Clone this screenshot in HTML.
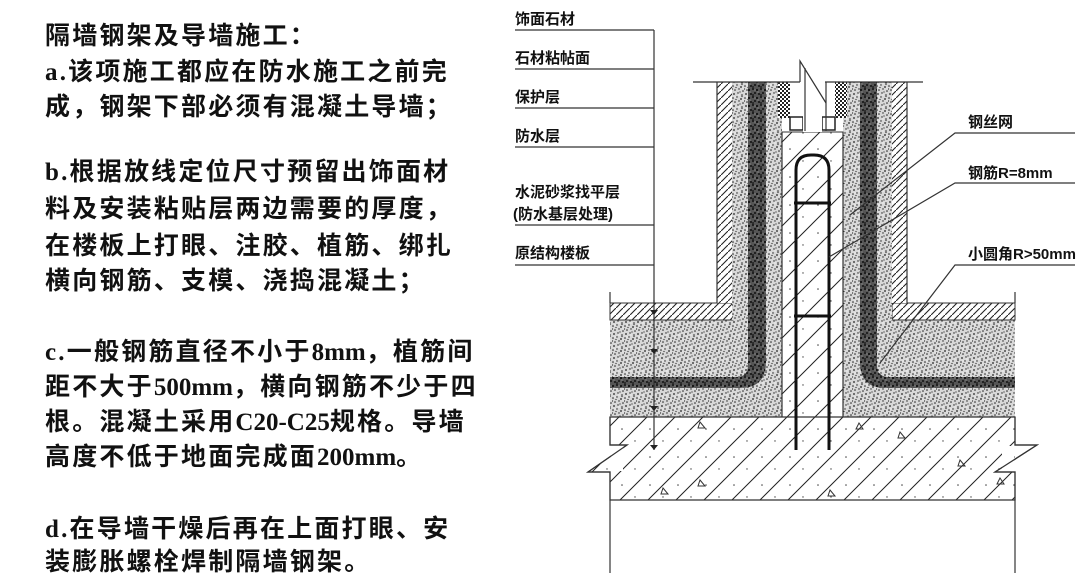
<!DOCTYPE html>
<html><head><meta charset="utf-8"><style>
html,body{margin:0;padding:0;background:#fff;}
body{width:1080px;height:584px;position:relative;overflow:hidden;font-family:"Liberation Sans","Noto Sans CJK SC",sans-serif;}
.t{position:absolute;left:45px;font-size:25px;font-weight:bold;color:#111;white-space:nowrap;line-height:30px;letter-spacing:2.2px;font-family:"Liberation Serif","Noto Sans CJK SC",sans-serif;}
.l{letter-spacing:0;}
svg{position:absolute;left:0;top:0;}
</style></head><body>
<div class="t" style="top:22px">隔墙钢架及导墙施工：</div>
<div class="t" style="top:58px">a.该项施工都应在防水施工之前完</div>
<div class="t" style="top:93px">成，钢架下部必须有混凝土导墙；</div>
<div class="t" style="top:158px">b.根据放线定位尺寸预留出饰面材</div>
<div class="t" style="top:195px">料及安装粘贴层两边需要的厚度，</div>
<div class="t" style="top:232px">在楼板上打眼、注胶、植筋、绑扎</div>
<div class="t" style="top:267px">横向钢筋、支模、浇捣混凝土；</div>
<div class="t" style="top:338px">c.一般钢筋直径不小于<span class="l">8mm</span>，植筋间</div>
<div class="t" style="top:373px">距不大于<span class="l">500mm</span>，横向钢筋不少于四</div>
<div class="t" style="top:408px">根。混凝土采用<span class="l">C20-C25</span>规格。导墙</div>
<div class="t" style="top:443px">高度不低于地面完成面<span class="l">200mm</span>。</div>
<div class="t" style="top:515px">d.在导墙干燥后再在上面打眼、安</div>
<div class="t" style="top:548px">装膨胀螺栓焊制隔墙钢架。</div>

<svg width="1080" height="584" viewBox="0 0 1080 584">
<defs>
<pattern id="h" width="7" height="7" patternUnits="userSpaceOnUse">
<rect width="7" height="7" fill="#fff"/><path d="M-1,8 L8,-1" stroke="#222" stroke-width="1.1"/></pattern>
<pattern id="hw" width="28" height="28" patternUnits="userSpaceOnUse">
<rect width="28" height="28" fill="#fff"/><path d="M-2,30 L30,-2 M-16,16 L16,-16 M12,44 L44,12" stroke="#222" stroke-width="1"/>
<circle cx="6" cy="9" r="0.8" fill="#444"/><circle cx="19" cy="21" r="0.7" fill="#444"/></pattern>
<pattern id="s" width="12" height="12" patternUnits="userSpaceOnUse">
<rect width="12" height="12" fill="#d8d8d8"/>
<g fill="#222"><circle cx="1" cy="2" r=".8"/><circle cx="5" cy="1" r=".7"/><circle cx="9" cy="3" r=".9"/><circle cx="3" cy="6" r=".8"/><circle cx="7" cy="5" r=".7"/><circle cx="11" cy="7" r=".8"/><circle cx="2" cy="10" r=".9"/><circle cx="6" cy="9" r=".7"/><circle cx="10" cy="11" r=".8"/><circle cx="8" cy="8" r=".6"/><circle cx="4" cy="3.5" r=".6"/><circle cx="10" cy="0.5" r=".6"/><circle cx="0.5" cy="5" r=".6"/></g>
<g fill="#fff"><circle cx="3" cy="1" r=".6"/><circle cx="7" cy="11" r=".6"/><circle cx="11" cy="4" r=".5"/></g></pattern>
<pattern id="d" width="8" height="8" patternUnits="userSpaceOnUse">
<rect width="8" height="8" fill="#555"/>
<g fill="#111"><circle cx="1" cy="1" r="1"/><circle cx="5" cy="2" r="1.1"/><circle cx="3" cy="5" r="1"/><circle cx="7" cy="6" r="1"/><circle cx="1" cy="7" r=".9"/></g>
<g fill="#ccc"><circle cx="3" cy="2" r=".5"/><circle cx="6" cy="4" r=".5"/></g></pattern>
<pattern id="c" width="4" height="4" patternUnits="userSpaceOnUse">
<rect width="4" height="4" fill="#fff"/><rect width="2" height="2" fill="#222"/><rect x="2" y="2" width="2" height="2" fill="#222"/></pattern>
</defs>

<g stroke="#333" stroke-width="1.2" fill="none">
<line x1="515" y1="30" x2="654" y2="30"/><line x1="515" y1="69" x2="654" y2="69"/>
<line x1="515" y1="108" x2="654" y2="108"/><line x1="515" y1="147" x2="654" y2="147"/>
<line x1="515" y1="225" x2="654" y2="225"/><line x1="515" y1="265" x2="654" y2="265"/>
<line x1="654" y1="30" x2="654" y2="450"/>
</g>
<g font-size="15" font-weight="bold" fill="#111" font-family="Liberation Sans,Noto Sans CJK SC,sans-serif">
<text x="515" y="24">饰面石材</text><text x="515" y="63">石材粘帖面</text>
<text x="515" y="102">保护层</text><text x="515" y="141">防水层</text>
<text x="515" y="197">水泥砂浆找平层</text><text x="513" y="219">(防水基层处理)</text>
<text x="515" y="258">原结构楼板</text>
<text x="968" y="127">钢丝网</text><text x="968" y="178">钢筋R=8mm</text><text x="968" y="259">小圆角R&gt;50mm</text>
</g>

<rect x="610" y="320" width="405" height="97" fill="url(#s)"/>
<rect x="610" y="303" width="123" height="17" fill="url(#h)" stroke="#333" stroke-width="1"/>
<rect x="892" y="303" width="123" height="17" fill="url(#h)" stroke="#333" stroke-width="1"/>
<rect x="717" y="82" width="15" height="221" fill="url(#h)"/>
<rect x="892" y="82" width="15" height="221" fill="url(#h)"/>
<rect x="732" y="82" width="16" height="238" fill="url(#s)"/>
<rect x="765" y="82" width="17" height="335" fill="url(#s)"/>
<rect x="843" y="82" width="17" height="335" fill="url(#s)"/>
<rect x="877" y="82" width="15" height="238" fill="url(#s)"/>
<rect x="778" y="82" width="12" height="36" fill="url(#c)"/>
<rect x="835" y="82" width="12" height="36" fill="url(#c)"/>
<path d="M748,82 V365 Q748,377 736,377 H610 V388 H740 Q766,388 766,362 V82 Z" fill="url(#d)"/>
<path d="M877,82 V365 Q877,377 889,377 H1015 V388 H885 Q860,388 860,362 V82 Z" fill="url(#d)"/>
<rect x="782" y="132" width="61" height="285" fill="url(#hw)" stroke="#333" stroke-width="1"/>
<rect x="790" y="117" width="13" height="13" fill="#fff" stroke="#222" stroke-width="1.5"/>
<rect x="822" y="117" width="13" height="13" fill="#fff" stroke="#222" stroke-width="1.5"/>
<rect x="803" y="82" width="19" height="50" fill="#fff"/>
<g stroke="#333" stroke-width="1.2" fill="none">
<line x1="717" y1="82" x2="717" y2="303"/><line x1="907" y1="82" x2="907" y2="303"/>
<line x1="693" y1="82" x2="800" y2="82"/><line x1="825" y1="82" x2="923" y2="82"/>
<polyline points="800,82 800,61 826,103"/>
<line x1="805" y1="68" x2="805" y2="131"/><line x1="826" y1="82" x2="826" y2="131"/>
<line x1="782" y1="132" x2="782" y2="417"/><line x1="843" y1="132" x2="843" y2="417"/>
</g>
<path d="M610,417 H1015 V445 H1037 L995,472 H1015 V500 H610 V472 H588 L627,445 H610 Z" fill="url(#hw)" stroke="#333" stroke-width="1.2"/>
<rect x="611" y="446" width="12" height="25" fill="#fff"/>
<rect x="1002" y="446" width="12" height="25" fill="#fff"/>
<g stroke="#333" stroke-width="1.2" fill="none">
<polyline points="610,417 610,445 627,445 588,472 610,472 610,500"/>
<polyline points="1015,417 1015,445 1037,445 995,472 1015,472 1015,500"/>
<line x1="610" y1="292" x2="610" y2="303"/><line x1="1015" y1="292" x2="1015" y2="303"/>
<line x1="610" y1="500" x2="610" y2="573"/><line x1="1015" y1="500" x2="1015" y2="573"/>
<line x1="654" y1="300" x2="654" y2="450"/>
</g>
<g fill="#222"><path d="M650,310 h8 l-4,5z"/><path d="M650,349 h8 l-4,5z"/><path d="M650,406 h8 l-4,5z"/><path d="M650,445 h8 l-4,5z"/></g>
<g fill="none" stroke="#333" stroke-width="1"><path d="M700,422 l5,6 h-7z"/><path d="M859,423 l4,6 h-7z"/><path d="M900,432 l5,6 h-7z"/><path d="M700,480 l5,6 h-7z"/><path d="M960,460 l5,6 h-7z"/><path d="M663,488 l5,6 h-7z"/><path d="M830,490 l5,6 h-7z"/><path d="M1000,478 l4,6 h-7z"/></g>
<path d="M796,450 V170 Q796,155 811,155 H814 Q829,155 829,170 V450" fill="none" stroke="#111" stroke-width="3"/>
<line x1="794" y1="203" x2="831" y2="203" stroke="#111" stroke-width="3"/>
<line x1="794" y1="316" x2="831" y2="316" stroke="#111" stroke-width="3"/>
<g stroke="#333" stroke-width="1.2" fill="none">
<polyline points="1075,133 955,133 850,215"/>
<polyline points="1075,183 955,183 829,257"/>
<polyline points="1075,265 955,265 880,363"/>
</g>
</svg>
</body></html>
